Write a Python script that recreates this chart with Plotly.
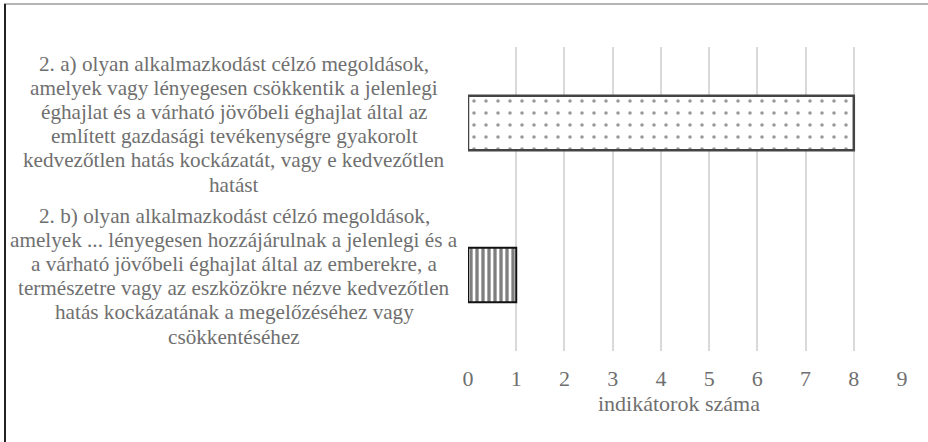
import plotly.graph_objects as go

# Data
categories = [
    "2. a) olyan alkalmazkodást célzó megoldások,<br>amelyek vagy lényegesen csökkentik a jelenlegi<br>éghajlat és a várható jövőbeli éghajlat által az<br>említett gazdasági tevékenységre gyakorolt<br>kedvezőtlen hatás kockázatát, vagy e kedvezőtlen<br>hatást",
    "2. b) olyan alkalmazkodást célzó megoldások,<br>amelyek ... lényegesen hozzájárulnak a jelenlegi és a<br>a várható jövőbeli éghajlat által az emberekre, a<br>természetre vagy az eszközökre nézve kedvezőtlen<br>hatás kockázatának a megelőzéséhez vagy<br>csökkentéséhez",
]
keys = ["a", "b"]
values = [8, 1]
x_ticks = list(range(0, 10))
x_title = "indikátorok száma"

W, H = 928, 442
L, R, T, B = 468, 25, 47, 91
pw, ph = W - L - R, H - T - B

def px2paper_x(px):
    return (px - L) / pw

def px2paper_y(py):
    return (H - B - py) / ph

TEXT = "#6f6f6f"
FONT = "'Liberation Serif', 'Times New Roman', serif"
LABEL_SIZE = 21.2
LINE_GAP = 24.2

fig = go.Figure()
fig.add_trace(go.Bar(
    y=[keys[0]], x=[values[0]], orientation="h", width=0.36,
    marker=dict(color="white", line=dict(color="#444444", width=2.5),
                pattern=dict(shape=".", fgcolor="#333333", bgcolor="white", size=12, solidity=0.07)),
    showlegend=False, hoverinfo="x",
))
fig.add_trace(go.Bar(
    y=[keys[1]], x=[values[1]], orientation="h", width=0.36,
    marker=dict(color="white", line=dict(color="#111111", width=2),
                pattern=dict(shape="|", fgcolor="#000000", bgcolor="white", size=6, solidity=0.55)),
    showlegend=False, hoverinfo="x",
))

for k, lab in zip(keys, categories):
    lines = lab.split("<br>")
    n = len(lines)
    for i, line in enumerate(lines):
        fig.add_annotation(
            x=px2paper_x(234), xref="paper", y=k, yref="y",
            text=line, showarrow=False, xanchor="center", yanchor="middle",
            yshift=((n - 1) / 2 - i) * LINE_GAP - 1,
            font=dict(family=FONT, size=LABEL_SIZE, color=TEXT),
        )

# axis title
fig.add_annotation(
    x=px2paper_x(679), xref="paper", y=px2paper_y(403), yref="paper",
    text=x_title, showarrow=False, xanchor="center", yanchor="middle",
    font=dict(family=FONT, size=22, color=TEXT),
)

# outer frame lines (top gray, left dark)
fig.add_shape(type="line", xref="paper", yref="paper",
              x0=px2paper_x(4), x1=px2paper_x(928), y0=px2paper_y(4), y1=px2paper_y(4),
              line=dict(color="#b5b5b5", width=2))
fig.add_shape(type="line", xref="paper", yref="paper",
              x0=px2paper_x(5), x1=px2paper_x(5), y0=px2paper_y(4), y1=px2paper_y(442),
              line=dict(color="#222222", width=2))

fig.update_layout(
    width=W, height=H,
    margin=dict(l=L, r=R, t=T, b=B, pad=0),
    paper_bgcolor="white", plot_bgcolor="white",
    barmode="overlay",
    font=dict(family=FONT, color=TEXT),
    xaxis=dict(range=[0, 9.02], tickvals=x_ticks, ticktext=[str(v) for v in x_ticks],
               showgrid=True, gridcolor="#d9d9d9", gridwidth=2, zeroline=False,
               showline=False, ticks="outside", ticklen=8, tickcolor="rgba(0,0,0,0)",
               tickfont=dict(family=FONT, size=22, color=TEXT)),
    yaxis=dict(categoryorder="array", categoryarray=keys, autorange="reversed",
               showticklabels=False, showgrid=False, zeroline=False, showline=False),
)

fig.write_html("out.html", config={"displayModeBar": False},
               post_script="document.body.style.margin='0';")
